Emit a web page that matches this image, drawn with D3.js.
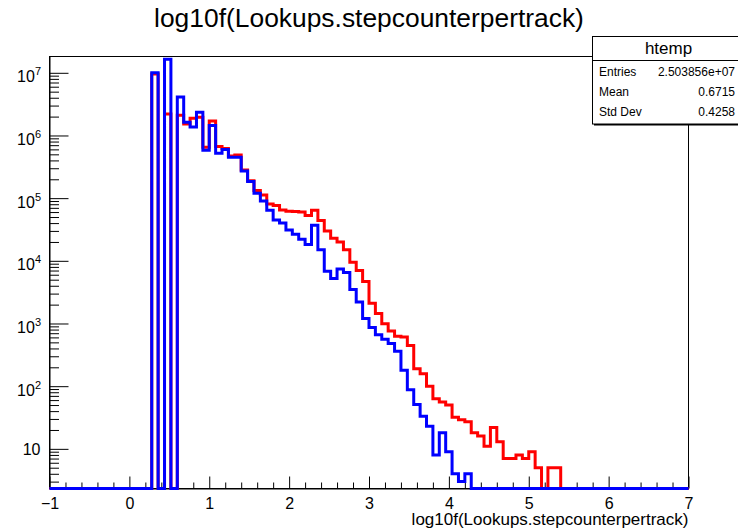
<!DOCTYPE html>
<html>
<head>
<meta charset="utf-8">
<script src="https://cdn.jsdelivr.net/npm/d3@7"></script>
<style>
  body { margin: 0; background: #fff; }
  svg { display: block; font-family: "Liberation Sans", Arial, Helvetica, sans-serif; }
</style>
</head>
<body>
<svg id="chart" width="738" height="532"></svg>
<script>
// Histogram definition: 100 equal bins on [-1, 7]
const titleText = "log10f(Lookups.stepcounterpertrack)";
const xAxisTitle = "log10f(Lookups.stepcounterpertrack)";
const xMin = -1, xMax = 7, nBins = 100;
const xTickValues = [-1, 0, 1, 2, 3, 4, 5, 6, 7];
const yTickValues = [1e1, 1e2, 1e3, 1e4, 1e5, 1e6, 1e7];
const yExtent = [2.33, 1.82e7];

// Bin contents, first histogram (htemp, red)
const redCounts = [
  0, 0, 0, 0, 0, 0, 0, 0, 0, 0,
  0, 0, 0, 0, 0, 0, 9.6e6, 0, 2.2e6, 0,
  2.1e6, 1.53e6, 1.88e6, 1.95e6, 6.5e5, 1.7e6, 6.7e5, 6.2e5, 4.7e5, 4.9e5,
  2.8e5, 1.9e5, 1.32e5, 1.12e5, 8.1e4, 7.6e4, 6.5e4, 6.2e4, 6.1e4, 6.0e4,
  5.3e4, 6.4e4, 4.4e4, 3.0e4, 2.3e4, 2.0e4, 1.5e4, 9500, 7000, 4700,
  2100, 1450, 990, 760, 625, 610, 445, 190, 158, 100,
  63, 56, 50, 32, 29, 27, 18, 16, 11, 22,
  13, 7, 7, 8, 7, 9, 5, 0, 5, 5,
  0, 0, 0, 0, 0, 0, 0, 0, 0, 0,
  0, 0, 0, 0, 0, 0, 0, 0, 0, 0
];

// Bin contents, second histogram (blue, drawn on top)
const blueCounts = [
  0, 0, 0, 0, 0, 0, 0, 0, 0, 0,
  0, 0, 0, 0, 0, 0, 1.0e7, 0, 1.65e7, 0,
  4.1e6, 1.63e6, 1.36e6, 2.35e6, 5.8e5, 1.44e6, 5.2e5, 6.0e5, 4.5e5, 4.5e5,
  2.7e5, 1.85e5, 1.2e5, 9.0e4, 6.4e4, 4.5e4, 4.0e4, 3.1e4, 2.65e4, 2.2e4,
  1.82e4, 3.7e4, 1.5e4, 6800, 5200, 7400, 6500, 3500, 2200, 1200,
  860, 660, 560, 480, 360, 180, 88, 51, 33, 23,
  8, 18, 9, 4, 3, 4, 0, 0, 0, 0,
  0, 0, 0, 0, 0, 0, 0, 0, 0, 0,
  0, 0, 0, 0, 0, 0, 0, 0, 0, 0,
  0, 0, 0, 0, 0, 0, 0, 0, 0, 0
];

const statsName = "htemp";
const statsLabels = ["Entries", "Mean", "Std Dev"];
const statsValues = ["2.503856e+07", "0.6715", "0.4258"];

const svg = d3.select("#chart");
const frame = { left: 49.5, right: 688.5, top: 56.5, bottom: 488.5 };

const x = d3.scaleLinear().domain([xMin, xMax]).range([frame.left, frame.right]);
const y = d3.scaleLog().domain(yExtent).range([frame.bottom, frame.top]).clamp(true);
const binWidth = (xMax - xMin) / nBins;

// Frame
svg.append("rect")
  .attr("x", frame.left).attr("y", frame.top)
  .attr("width", frame.right - frame.left).attr("height", frame.bottom - frame.top)
  .attr("fill", "none").attr("stroke", "#000").attr("stroke-width", 1);

// Title
svg.append("text")
  .attr("x", 369).attr("y", 27)
  .attr("text-anchor", "middle")
  .attr("font-size", 26.4)
  .text(titleText);

// X axis: major ticks with labels, minor ticks every 0.2
const xMinor = d3.range(xMin, xMax + 1e-9, 0.2).filter(v => Math.abs(v - Math.round(v)) > 1e-6);
svg.append("g")
  .attr("transform", `translate(0,${frame.bottom})`)
  .call(d3.axisBottom(x).tickValues(xMinor).tickSizeInner(-6).tickSizeOuter(0).tickFormat(""))
  .call(g => g.select(".domain").remove());
const xAxisG = svg.append("g")
  .attr("transform", `translate(0,${frame.bottom})`)
  .call(d3.axisBottom(x).tickValues(xTickValues).tickSizeInner(-12).tickSizeOuter(0)
        .tickPadding(0).tickFormat(d => d < 0 ? "\u2212" + Math.abs(d) : String(d)));
xAxisG.select(".domain").attr("stroke", "#000");
xAxisG.selectAll(".tick line").attr("stroke", "#000");
xAxisG.selectAll(".tick text")
  .attr("font-size", 16).attr("fill", "#000")
  .attr("y", 20).attr("dy", null)
  .attr("font-family", "'Liberation Sans', Arial, sans-serif");

// X axis title
svg.append("text")
  .attr("x", frame.right).attr("y", 525)
  .attr("text-anchor", "end")
  .attr("font-size", 17)
  .text(xAxisTitle);

// Y axis (log): decades labelled, 2..9 sub-ticks
const yMinor = [];
for (let e = 0; e <= 7; e++) {
  for (let k = 2; k <= 9; k++) {
    const v = k * Math.pow(10, e);
    if (v >= yExtent[0] && v <= yExtent[1]) yMinor.push(v);
  }
}
svg.append("g")
  .attr("transform", `translate(${frame.left},0)`)
  .call(d3.axisLeft(y).tickValues(yMinor).tickSizeInner(-9.5).tickSizeOuter(0).tickFormat(""))
  .call(g => g.select(".domain").remove());
const yAxisG = svg.append("g")
  .attr("transform", `translate(${frame.left},0)`)
  .call(d3.axisLeft(y).tickValues(yTickValues).tickSizeInner(-19).tickSizeOuter(0).tickFormat(""));
yAxisG.select(".domain").attr("stroke", "#000");
yAxisG.selectAll(".tick line").attr("stroke", "#000");
yAxisG.selectAll(".tick").each(function (d) {
  const exp = Math.round(Math.log10(d));
  const t = d3.select(this).append("text")
    .attr("fill", "#000").attr("text-anchor", "end")
    .attr("font-family", "'Liberation Sans', Arial, sans-serif");
  if (exp === 1) {
    t.attr("x", -9).attr("y", 5.7).attr("font-size", 16).text("10");
  } else {
    t.attr("x", -8.5).attr("y", 9);
    t.append("tspan").attr("font-size", 16).text("10");
    t.append("tspan").attr("font-size", 11).attr("dy", -7).text(String(exp));
  }
});

// Step outline of a histogram
const stepLine = d3.line()
  .x(d => x(d[0]))
  .y(d => y(Math.max(d[1], yExtent[0])))
  .curve(d3.curveStepAfter);
function histPoints(counts) {
  const pts = counts.map((v, i) => [xMin + i * binWidth, v]);
  pts.push([xMax, counts[counts.length - 1]]);
  return pts;
}

svg.append("path")
  .attr("d", stepLine(histPoints(redCounts)))
  .attr("fill", "none").attr("stroke", "#ff0000").attr("stroke-width", 3)
  .attr("stroke-linejoin", "miter");
svg.append("path")
  .attr("d", stepLine(histPoints(blueCounts)))
  .attr("fill", "none").attr("stroke", "#0000ff").attr("stroke-width", 3)
  .attr("stroke-linejoin", "miter");

// Statistics box
const box = { x: 592.5, y: 36.5, w: 152, h: 87.5 };
svg.append("rect")
  .attr("x", box.x + 1.5).attr("y", box.y + 1.5).attr("width", box.w).attr("height", box.h)
  .attr("fill", "#000");
svg.append("rect")
  .attr("x", box.x).attr("y", box.y).attr("width", box.w).attr("height", box.h)
  .attr("fill", "#fff").attr("stroke", "#000").attr("stroke-width", 1);
svg.append("line")
  .attr("x1", box.x).attr("x2", box.x + box.w)
  .attr("y1", 60.5).attr("y2", 60.5)
  .attr("stroke", "#000");
svg.append("text")
  .attr("x", box.x + box.w / 2).attr("y", 54)
  .attr("text-anchor", "middle").attr("font-size", 17)
  .text(statsName);
statsLabels.forEach((lab, i) => {
  const by = 76 + i * 20;
  svg.append("text").attr("x", 599).attr("y", by).attr("font-size", 12).text(lab);
  svg.append("text").attr("x", 735).attr("y", by).attr("text-anchor", "end")
    .attr("font-size", 12).text(statsValues[i]);
});
</script>
</body>
</html>
